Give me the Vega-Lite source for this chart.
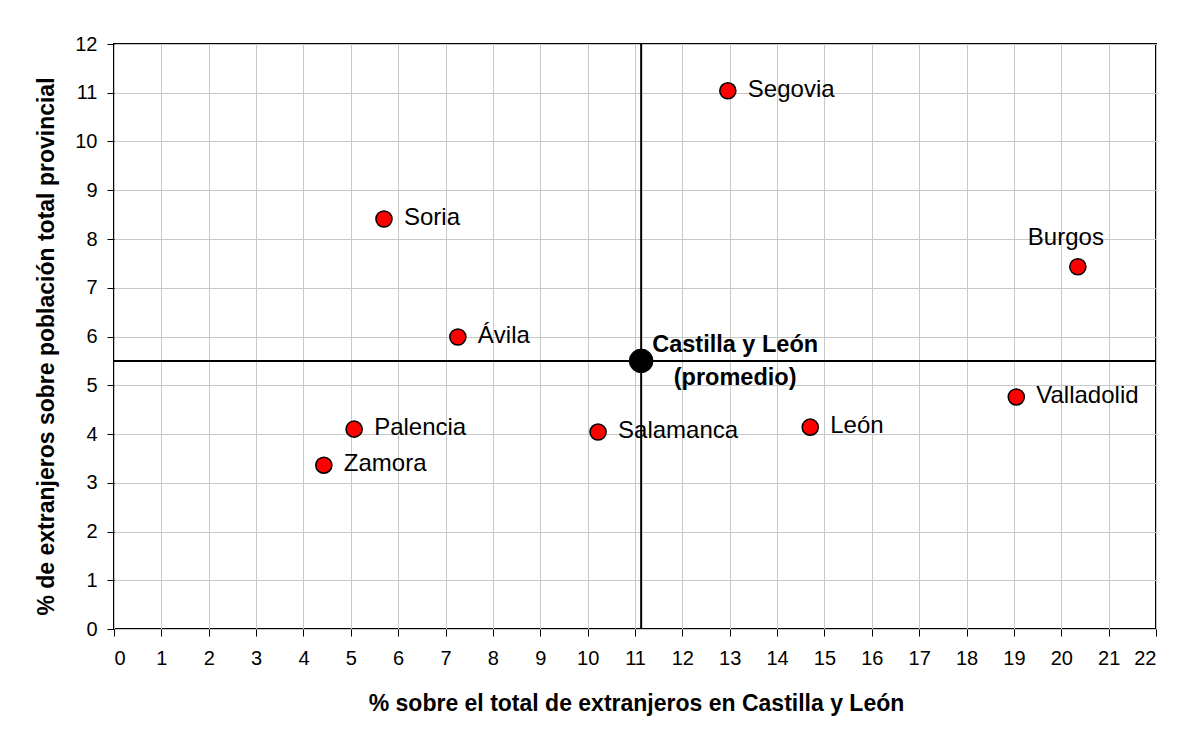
{
  "$schema": "https://vega.github.io/schema/vega-lite/v6.json",
  "width": 1042,
  "height": 585,
  "autosize": {"type": "none"},
  "padding": {"left": 114, "top": 44, "right": 31, "bottom": 117},
  "background": "white",
  "config": {
    "view": {"stroke": "#000", "strokeWidth": 2},
    "font": "Liberation Sans",
    "axis": {
      "gridColor": "#c8c8c8",
      "gridWidth": 1,
      "domain": false,
      "tickColor": "#000",
      "tickSize": 7,
      "tickWidth": 1,
      "labelFont": "Liberation Sans",
      "labelFontSize": 20,
      "labelColor": "#000",
      "titleFont": "Liberation Sans",
      "titleFontSize": 23,
      "titleFontWeight": "bold",
      "titleColor": "#000"
    }
  },
  "data": {
    "values": [
      {"nombre": "Segovia", "x": 12.96, "y": 11.04, "tipo": "provincia"},
      {"nombre": "Soria", "x": 5.70, "y": 8.41, "tipo": "provincia"},
      {"nombre": "Ávila", "x": 7.26, "y": 5.99, "tipo": "provincia"},
      {"nombre": "Palencia", "x": 5.07, "y": 4.10, "tipo": "provincia"},
      {"nombre": "Zamora", "x": 4.43, "y": 3.36, "tipo": "provincia"},
      {"nombre": "Salamanca", "x": 10.22, "y": 4.04, "tipo": "provincia"},
      {"nombre": "León", "x": 14.70, "y": 4.14, "tipo": "provincia"},
      {"nombre": "Valladolid", "x": 19.05, "y": 4.76, "tipo": "provincia"},
      {"nombre": "Burgos", "x": 20.35, "y": 7.43, "tipo": "provincia"},
      {"nombre": "Castilla y León\n(promedio)", "x": 11.13, "y": 5.5, "tipo": "promedio"}
    ]
  },
  "layer": [
    {
      "transform": [{"filter": "datum.tipo === 'promedio'"}],
      "mark": {"type": "rule", "color": "#000", "strokeWidth": 2},
      "encoding": {
        "x": {
          "field": "x", "type": "quantitative",
          "title": "% sobre el total de extranjeros en Castilla y León",
          "scale": {"domain": [0, 22], "nice": false, "zero": false},
          "axis": {
            "values": [0,1,2,3,4,5,6,7,8,9,10,11,12,13,14,15,16,17,18,19,20,21,22],
            "labelPadding": 12,
            "titleX": 522,
            "titleY": 74,
            "titleBaseline": "middle",
            "titleAnchor": "middle"
          }
        }
      }
    },
    {
      "transform": [{"filter": "datum.tipo === 'promedio'"}],
      "mark": {"type": "rule", "color": "#000", "strokeWidth": 2},
      "encoding": {
        "y": {
          "field": "y", "type": "quantitative",
          "title": "% de extranjeros sobre población total provincial",
          "scale": {"domain": [0, 12], "nice": false, "zero": false},
          "axis": {
            "values": [0,1,2,3,4,5,6,7,8,9,10,11,12],
            "labelPadding": 10,
            "titleX": -68,
            "titleY": 302,
            "titleAngle": -90,
            "titleBaseline": "middle",
            "titleAlign": "center"
          }
        }
      }
    },
    {
      "transform": [{"filter": "datum.tipo === 'provincia'"}],
      "mark": {"type": "circle", "size": 260, "fill": "#ff0000", "stroke": "#000", "strokeWidth": 1.5, "opacity": 1},
      "encoding": {
        "x": {"field": "x", "type": "quantitative", "title": "% sobre el total de extranjeros en Castilla y León", "scale": {"domain": [0, 22], "nice": false, "zero": false}},
        "y": {"field": "y", "type": "quantitative", "title": "% de extranjeros sobre población total provincial", "scale": {"domain": [0, 12], "nice": false, "zero": false}}
      }
    },
    {
      "transform": [{"filter": "datum.tipo === 'promedio'"}],
      "mark": {"type": "circle", "size": 560, "fill": "#000", "stroke": "#000", "strokeWidth": 1, "opacity": 1},
      "encoding": {
        "x": {"field": "x", "type": "quantitative", "title": "% sobre el total de extranjeros en Castilla y León", "scale": {"domain": [0, 22], "nice": false, "zero": false}},
        "y": {"field": "y", "type": "quantitative", "title": "% de extranjeros sobre población total provincial", "scale": {"domain": [0, 12], "nice": false, "zero": false}}
      }
    },
    {
      "transform": [{"filter": "datum.tipo === 'provincia' && datum.nombre !== 'Burgos'"}],
      "mark": {"type": "text", "align": "left", "baseline": "middle", "dx": 20, "dy": -1, "fontSize": 24, "font": "Liberation Sans", "color": "#000"},
      "encoding": {
        "x": {"field": "x", "type": "quantitative", "title": "% sobre el total de extranjeros en Castilla y León", "scale": {"domain": [0, 22], "nice": false, "zero": false}},
        "y": {"field": "y", "type": "quantitative", "title": "% de extranjeros sobre población total provincial", "scale": {"domain": [0, 12], "nice": false, "zero": false}},
        "text": {"field": "nombre"}
      }
    },
    {
      "transform": [{"filter": "datum.nombre === 'Burgos'"}],
      "mark": {"type": "text", "align": "center", "baseline": "middle", "dx": -12, "dy": -29, "fontSize": 24, "font": "Liberation Sans", "color": "#000"},
      "encoding": {
        "x": {"field": "x", "type": "quantitative", "title": "% sobre el total de extranjeros en Castilla y León", "scale": {"domain": [0, 22], "nice": false, "zero": false}},
        "y": {"field": "y", "type": "quantitative", "title": "% de extranjeros sobre población total provincial", "scale": {"domain": [0, 12], "nice": false, "zero": false}},
        "text": {"field": "nombre"}
      }
    },
    {
      "transform": [{"filter": "datum.tipo === 'promedio'"}],
      "mark": {"type": "text", "align": "center", "baseline": "middle", "lineBreak": "\n", "lineHeight": 33, "dx": 94, "dy": -16, "fontSize": 23.5, "fontWeight": "bold", "font": "Liberation Sans", "color": "#000"},
      "encoding": {
        "x": {"field": "x", "type": "quantitative", "title": "% sobre el total de extranjeros en Castilla y León", "scale": {"domain": [0, 22], "nice": false, "zero": false}},
        "y": {"field": "y", "type": "quantitative", "title": "% de extranjeros sobre población total provincial", "scale": {"domain": [0, 12], "nice": false, "zero": false}},
        "text": {"field": "nombre"}
      }
    }
  ]
}
